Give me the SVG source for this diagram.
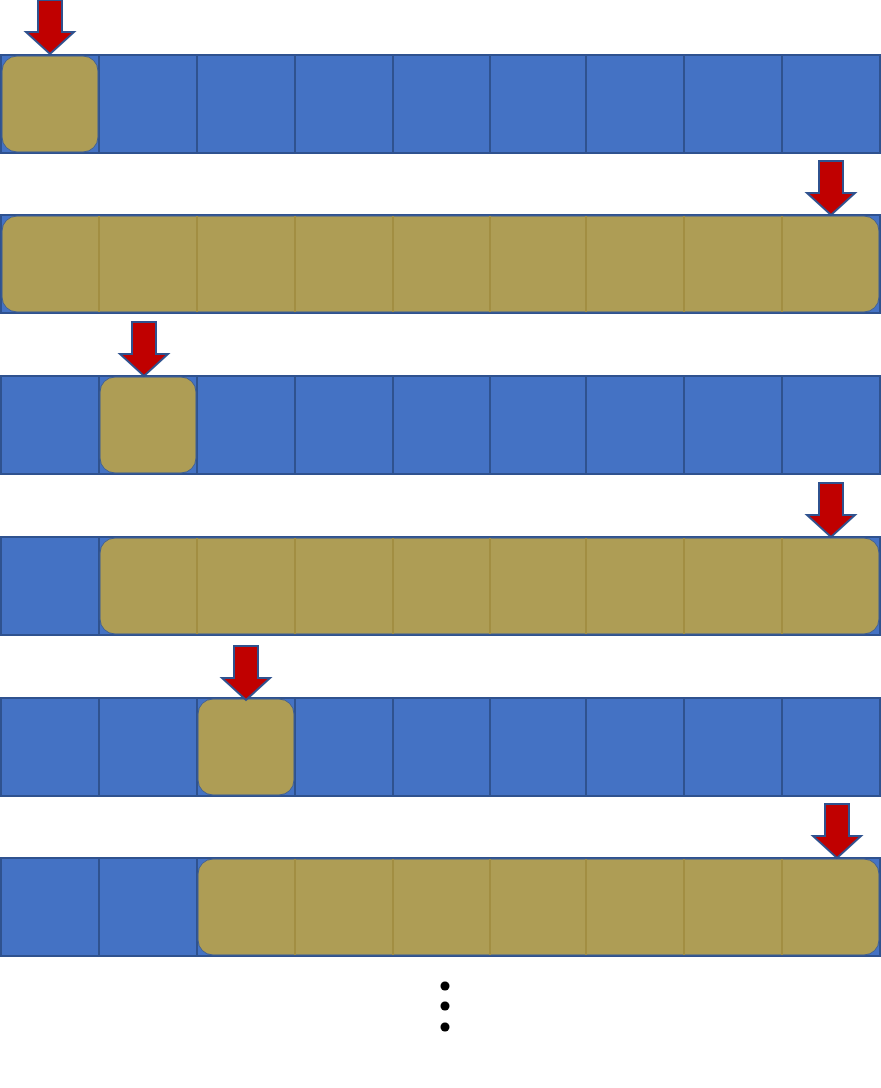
<svg xmlns="http://www.w3.org/2000/svg" width="881" height="1088" viewBox="0 0 881 1088">
<style>
.cell{fill:#4472c4;stroke:#2f528f;stroke-width:2}
.gold{fill:#ae9d55;stroke:#3f5f94;stroke-width:1}
.gl{stroke:#a28e42;stroke-width:2}
.arr{fill:#c00000;stroke:#2f528f;stroke-width:2;stroke-linejoin:miter}
.dot{fill:#000}
</style>
<defs>
<g id="row">
<rect class="cell" x="1" y="0" width="98" height="98"/>
<rect class="cell" x="99" y="0" width="98" height="98"/>
<rect class="cell" x="197" y="0" width="98" height="98"/>
<rect class="cell" x="295" y="0" width="98" height="98"/>
<rect class="cell" x="393" y="0" width="97" height="98"/>
<rect class="cell" x="490" y="0" width="96" height="98"/>
<rect class="cell" x="586" y="0" width="98" height="98"/>
<rect class="cell" x="684" y="0" width="98" height="98"/>
<rect class="cell" x="782" y="0" width="98" height="98"/>
</g>
<path id="arrow" class="arr" d="M-12,0 H12 V32 H24 L0,54 L-24,32 H-12 Z"/>
</defs>
<g id="row1" transform="translate(0,55)">
<use href="#row"/>
<rect class="gold" x="2" y="1" width="96" height="96" rx="15"/>
</g>
<g id="row2" transform="translate(0,215)">
<use href="#row"/>
<rect class="gold" x="2" y="1" width="877" height="96" rx="15"/>
<path class="gl" d="M99,1V97M197,1V97M295,1V97M393,1V97M490,1V97M586,1V97M684,1V97M782,1V97"/>
</g>
<g id="row3" transform="translate(0,376)">
<use href="#row"/>
<rect class="gold" x="100" y="1" width="96" height="96" rx="15"/>
</g>
<g id="row4" transform="translate(0,537)">
<use href="#row"/>
<rect class="gold" x="100" y="1" width="779" height="96" rx="15"/>
<path class="gl" d="M197,1V97M295,1V97M393,1V97M490,1V97M586,1V97M684,1V97M782,1V97"/>
</g>
<g id="row5" transform="translate(0,698)">
<use href="#row"/>
<rect class="gold" x="198" y="1" width="96" height="96" rx="15"/>
</g>
<g id="row6" transform="translate(0,858)">
<use href="#row"/>
<rect class="gold" x="198" y="1" width="681" height="96" rx="15"/>
<path class="gl" d="M295,1V97M393,1V97M490,1V97M586,1V97M684,1V97M782,1V97"/>
</g>
<g id="arrows">
<use href="#arrow" transform="translate(50,0)"/>
<use href="#arrow" transform="translate(831,161)"/>
<use href="#arrow" transform="translate(144,322)"/>
<use href="#arrow" transform="translate(831,483)"/>
<use href="#arrow" transform="translate(246,646)"/>
<use href="#arrow" transform="translate(837,804)"/>
</g>
<g id="ellipsis">
<circle class="dot" cx="445" cy="986" r="4.5"/>
<circle class="dot" cx="445" cy="1006" r="4.5"/>
<circle class="dot" cx="445" cy="1027" r="4.5"/>
</g>
</svg>
